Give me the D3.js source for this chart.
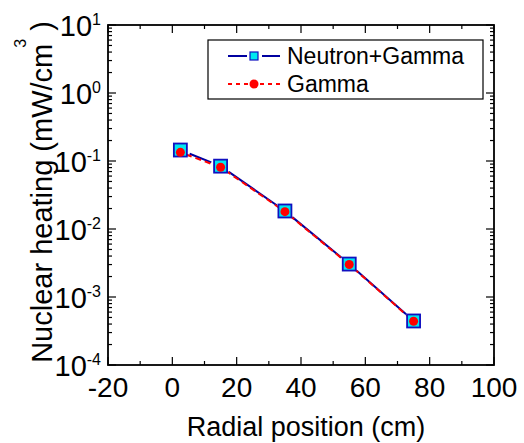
<!DOCTYPE html>
<html>
<head>
  <meta charset="utf-8">
  <title>Nuclear heating</title>
  <script src="https://cdn.jsdelivr.net/npm/d3@7"></script>
  <style>
    body { margin: 0; background: #fff; }
    text { font-family: "Liberation Sans", Arial, sans-serif; fill: #000; }
  </style>
</head>
<body>
<svg width="524" height="443"></svg>

<script>
  // data
  var radialPos = [2.5, 15, 35, 55, 75];
  var neutronGamma = [0.145, 0.084, 0.0184, 0.00305, 0.000444];
  var gammaOnly = [0.134, 0.081, 0.0180, 0.00300, 0.000440];
  var xTicks = [-20, 0, 20, 40, 60, 80, 100];
  var yExps = [-4, -3, -2, -1, 0, 1];

  var svg = d3.select("svg");
  // note: "top" is reserved on window, so use plot* names
  var plotL = 108, plotR = 494, plotT = 25, plotB = 365;

  var x = d3.scaleLinear().domain([-20, 100]).range([plotL, plotR]);
  var y = d3.scaleLog().domain([1e-4, 10]).range([plotB, plotT]);

  // minor ticks
  var xMinor = d3.range(-20, 101, 10);
  var yMinor = [];
  yExps.slice(0, -1).forEach(function(e) {
    for (var k = 2; k <= 9; k++) yMinor.push(k * Math.pow(10, e));
  });

  var ticks = svg.append("g").attr("stroke", "#000").attr("stroke-width", 1.2);
  xMinor.forEach(function(v) {
    var len = (v % 20 === 0) ? 8 : 4;
    ticks.append("line").attr("x1", x(v)).attr("x2", x(v)).attr("y1", plotB).attr("y2", plotB - len);
    ticks.append("line").attr("x1", x(v)).attr("x2", x(v)).attr("y1", plotT).attr("y2", plotT + len);
  });
  yMinor.forEach(function(v) {
    ticks.append("line").attr("x1", plotL).attr("x2", plotL + 4).attr("y1", y(v)).attr("y2", y(v));
    ticks.append("line").attr("x1", plotR).attr("x2", plotR - 4).attr("y1", y(v)).attr("y2", y(v));
  });
  yExps.forEach(function(e) {
    var v = Math.pow(10, e);
    ticks.append("line").attr("x1", plotL).attr("x2", plotL + 8).attr("y1", y(v)).attr("y2", y(v));
    ticks.append("line").attr("x1", plotR).attr("x2", plotR - 8).attr("y1", y(v)).attr("y2", y(v));
  });

  // frame
  svg.append("rect")
    .attr("x", plotL).attr("y", plotT)
    .attr("width", plotR - plotL).attr("height", plotB - plotT)
    .attr("fill", "none").attr("stroke", "#000").attr("stroke-width", 1.8);

  // x tick labels
  svg.append("g").selectAll("text").data(xTicks).join("text")
    .attr("x", function(d) { return x(d); })
    .attr("y", 397)
    .attr("text-anchor", "middle")
    .style("font-size", "28px")
    .text(function(d) { return d < 0 ? "-" + Math.abs(d) : d; });

  // y tick labels 10^n
  var yl = svg.append("g").selectAll("text").data(yExps).join("text")
    .attr("x", 101)
    .attr("y", function(d) { return y(Math.pow(10, d)) + 11; })
    .attr("text-anchor", "end")
    .style("font-size", "29px");
  yl.append("tspan").text("10");
  yl.append("tspan").attr("dy", -11).style("font-size", "16px")
    .text(function(d) { return d < 0 ? "-" + Math.abs(d) : d; });

  // axis titles
  svg.append("text")
    .attr("x", (plotL + plotR) / 2 + 5).attr("y", 436)
    .attr("text-anchor", "middle")
    .style("font-size", "27px")
    .text("Radial position (cm)");

  var yt = svg.append("text")
    .attr("transform", "translate(52,192) rotate(-90)")
    .attr("text-anchor", "middle")
    .style("font-size", "29px");
  yt.append("tspan").text("Nuclear heating (mW/cm");
  yt.append("tspan").attr("dy", -26).attr("dx", -4).style("font-size", "16px").text("3");
  yt.append("tspan").attr("dy", 26).text(" )");

  // lines with gaps at the markers (Origin style)
  function gapped(vals, gap) {
    var pts = radialPos.map(function(d, i) { return [x(d), y(vals[i])]; });
    var segs = [];
    for (var i = 0; i < pts.length - 1; i++) {
      var a = pts[i], b = pts[i + 1];
      var dx = b[0] - a[0], dy = b[1] - a[1], L = Math.sqrt(dx * dx + dy * dy);
      var ux = dx / L, uy = dy / L;
      segs.push([[a[0] + ux * gap, a[1] + uy * gap], [b[0] - ux * gap, b[1] - uy * gap]]);
    }
    return segs;
  }

  svg.append("g").selectAll("line").data(gapped(neutronGamma, 10)).join("line")
    .attr("x1", function(d) { return d[0][0]; }).attr("y1", function(d) { return d[0][1]; })
    .attr("x2", function(d) { return d[1][0]; }).attr("y2", function(d) { return d[1][1]; })
    .attr("stroke", "#0000a0").attr("stroke-width", 2);

  svg.append("g").selectAll("line").data(gapped(gammaOnly, 6)).join("line")
    .attr("x1", function(d) { return d[0][0]; }).attr("y1", function(d) { return d[0][1]; })
    .attr("x2", function(d) { return d[1][0]; }).attr("y2", function(d) { return d[1][1]; })
    .attr("stroke", "#ff0000").attr("stroke-width", 2).attr("stroke-dasharray", "6,4");

  // markers
  svg.append("g").selectAll("rect").data(neutronGamma).join("rect")
    .attr("x", function(d, i) { return x(radialPos[i]) - 6.5; })
    .attr("y", function(d) { return y(d) - 6.5; })
    .attr("width", 13).attr("height", 13)
    .attr("fill", "#00e8f0").attr("stroke", "#1010c0").attr("stroke-width", 1.8);

  svg.append("g").selectAll("circle").data(gammaOnly).join("circle")
    .attr("cx", function(d, i) { return x(radialPos[i]); })
    .attr("cy", function(d) { return y(d); })
    .attr("r", 4.5)
    .attr("fill", "#ff0000");

  // legend
  var lg = svg.append("g");
  lg.append("rect").attr("x", 208).attr("y", 40).attr("width", 275).attr("height", 59)
    .attr("fill", "#fff").attr("stroke", "#000").attr("stroke-width", 1.2);
  lg.append("line").attr("x1", 228).attr("x2", 247).attr("y1", 56).attr("y2", 56)
    .attr("stroke", "#0000a0").attr("stroke-width", 2);
  lg.append("line").attr("x1", 262).attr("x2", 280).attr("y1", 56).attr("y2", 56)
    .attr("stroke", "#0000a0").attr("stroke-width", 2);
  lg.append("rect").attr("x", 250).attr("y", 52).attr("width", 8).attr("height", 8)
    .attr("fill", "#00e8f0").attr("stroke", "#1010c0").attr("stroke-width", 1.2);
  lg.append("line").attr("x1", 228).attr("x2", 280).attr("y1", 84).attr("y2", 84)
    .attr("stroke", "#ff0000").attr("stroke-width", 2).attr("stroke-dasharray", "4,4");
  lg.append("circle").attr("cx", 254).attr("cy", 84).attr("r", 4.5).attr("fill", "#ff0000");
  lg.append("text").attr("x", 287).attr("y", 64).style("font-size", "23px").text("Neutron+Gamma");
  lg.append("text").attr("x", 287).attr("y", 92).style("font-size", "23px").text("Gamma");
</script>
</body>
</html>
